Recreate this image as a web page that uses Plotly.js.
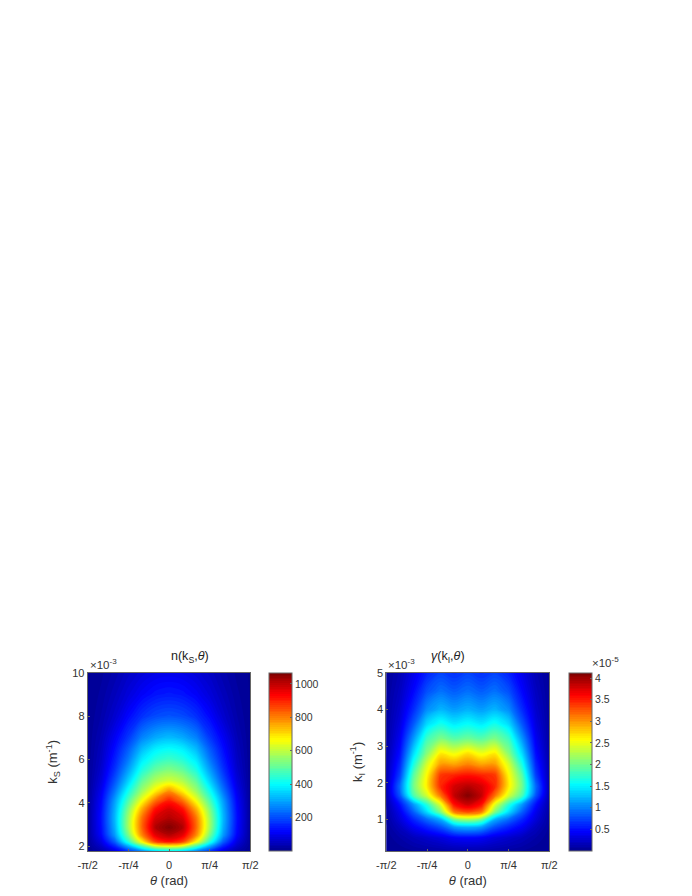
<!DOCTYPE html>
<html>
<head>
<meta charset="utf-8">
<script src="https://cdn.plot.ly/plotly-3.0.1.min.js"></script>
<style>body{margin:0;background:#fff}</style>
</head>
<body>
<div id="graph"></div>
<script>
const theta = [-1.5708, -1.309, -1.0472, -0.7854, -0.5236, -0.2618, 0, 0.2618, 0.5236, 0.7854, 1.0472, 1.309, 1.5708];
const thetaTicks = [-1.5708, -0.7854, 0, 0.7854, 1.5708];
const thetaLabels = ['-π/2', '-π/4', '0', 'π/4', 'π/2'];

// left panel, n(kS,theta)
const kS = [1.77, 2, 2.2, 2.5, 2.86, 3.3, 3.7, 4.1, 4.5, 5, 5.5, 6, 6.5, 7, 8, 9, 10];
const nVals = [
  [3, 30, 85, 175, 270, 350, 380, 350, 270, 175, 85, 30, 3],
  [5, 60, 155, 310, 480, 630, 670, 630, 480, 310, 155, 60, 5],
  [7, 85, 220, 440, 670, 865, 920, 865, 670, 440, 220, 85, 7],
  [9, 115, 285, 525, 790, 960, 1010, 960, 790, 525, 285, 115, 9],
  [10, 125, 310, 570, 825, 1015, 1064, 1015, 825, 570, 310, 125, 10],
  [10, 130, 320, 565, 810, 975, 1010, 975, 810, 565, 320, 130, 10],
  [9, 125, 310, 535, 750, 920, 975, 920, 750, 535, 310, 125, 9],
  [8, 115, 290, 480, 655, 815, 900, 815, 655, 480, 290, 115, 8],
  [7, 100, 250, 420, 570, 690, 790, 690, 570, 420, 250, 100, 7],
  [6, 80, 205, 350, 500, 585, 620, 585, 500, 350, 205, 80, 6],
  [5, 65, 170, 295, 430, 505, 535, 505, 430, 295, 170, 65, 5],
  [5, 55, 145, 250, 375, 435, 460, 435, 375, 250, 145, 55, 5],
  [4, 48, 125, 215, 320, 380, 400, 380, 320, 215, 125, 48, 4],
  [4, 40, 105, 175, 260, 305, 325, 305, 260, 175, 105, 40, 4],
  [3, 27, 65, 118, 165, 195, 205, 195, 165, 118, 65, 27, 3],
  [3, 18, 45, 78, 110, 132, 140, 132, 110, 78, 45, 18, 3],
  [2, 12, 30, 55, 75, 90, 95, 90, 75, 55, 30, 12, 2]
];
const nTicks = [200, 400, 600, 800, 1000];

// right panel, gamma(kI,theta), in units of 1e-5
const kI = [0.14, 0.5, 0.8, 1, 1.2, 1.4, 1.65, 1.9, 2.2, 2.5, 2.8, 3.2, 3.6, 4, 4.5, 5];
const gammaVals = [
  [0.02, 0.03, 0.06, 0.08, 0.1, 0.12, 0.12, 0.12, 0.1, 0.08, 0.06, 0.03, 0.02],
  [0.03, 0.1, 0.18, 0.25, 0.32, 0.42, 0.45, 0.42, 0.32, 0.25, 0.18, 0.1, 0.03],
  [0.05, 0.2, 0.42, 0.6, 0.8, 1.15, 1.25, 1.15, 0.8, 0.6, 0.42, 0.2, 0.05],
  [0.06, 0.3, 0.6, 0.9, 1.2, 2, 2.2, 2, 1.2, 0.9, 0.6, 0.3, 0.06],
  [0.08, 0.38, 0.85, 1.4, 2.05, 3.1, 3.3, 3.1, 2.05, 1.4, 0.85, 0.38, 0.08],
  [0.1, 0.5, 1.1, 1.7, 2.45, 3.55, 3.8, 3.55, 2.45, 1.7, 1.1, 0.5, 0.1],
  [0.13, 0.8, 1.85, 2.4, 3.15, 3.85, 4.11, 3.85, 3.15, 2.4, 1.85, 0.8, 0.13],
  [0.14, 0.9, 2, 2.65, 3.45, 3.78, 3.9, 3.78, 3.45, 2.65, 2, 0.9, 0.14],
  [0.13, 0.72, 1.9, 2.6, 3.4, 3.48, 3.55, 3.48, 3.4, 2.6, 1.9, 0.72, 0.13],
  [0.12, 0.6, 1.65, 2.42, 2.98, 2.95, 3.08, 2.95, 2.98, 2.42, 1.65, 0.6, 0.12],
  [0.1, 0.5, 1.4, 2.1, 2.65, 2.52, 2.7, 2.52, 2.65, 2.1, 1.4, 0.5, 0.1],
  [0.08, 0.4, 1.1, 1.8, 2.05, 1.9, 1.98, 1.9, 2.05, 1.8, 1.1, 0.4, 0.08],
  [0.07, 0.32, 0.82, 1.4, 1.62, 1.47, 1.56, 1.47, 1.62, 1.4, 0.82, 0.32, 0.07],
  [0.06, 0.26, 0.62, 1.05, 1.22, 1.12, 1.2, 1.12, 1.22, 1.05, 0.62, 0.26, 0.06],
  [0.05, 0.2, 0.46, 0.78, 0.93, 0.84, 0.92, 0.84, 0.93, 0.78, 0.46, 0.2, 0.05],
  [0.04, 0.15, 0.36, 0.58, 0.72, 0.64, 0.72, 0.64, 0.72, 0.58, 0.36, 0.15, 0.04]
];
const gammaTicks = [0.5, 1, 1.5, 2, 2.5, 3, 3.5, 4];
const gammaLabels = ['0.5', '1', '1.5', '2', '2.5', '3', '3.5', '4'];

const jet = [
  [0, '#00008f'], [0.11, '#0000ff'], [0.125, '#0010ff'], [0.375, '#00ffff'],
  [0.625, '#ffff00'], [0.875, '#ff0000'], [1, '#800000']
];

const W = 692, H = 896;
const frameColor = '#666666';
const textColor = '#333333';
const fontName = 'Liberation Sans, Arial, sans-serif';

function cbar(x, vals, labels) {
  return {
    x: x / W, xanchor: 'left', xref: 'paper',
    y: (896 - 851) / H, yanchor: 'bottom', yref: 'paper',
    len: 178.3 / H, lenmode: 'fraction',
    thickness: 23, thicknessmode: 'pixels',
    xpad: 0, ypad: 0,
    outlinecolor: frameColor, outlinewidth: 1,
    tickmode: 'array', tickvals: vals, ticktext: labels,
    ticks: 'inside', ticklen: 2, tickcolor: frameColor,
    tickfont: {size: 10.5, color: textColor}
  };
}

const data = [
  {
    type: 'contour', x: theta, y: kS, z: nVals, xaxis: 'x', yaxis: 'y',
    colorscale: jet, zauto: false, zmin: 0, zmax: 1064,
    autocontour: false,
    contours: {coloring: 'fill', showlines: false, start: 4, end: 1060, size: 11},
    line: {width: 0},
    colorbar: cbar(269.3, nTicks, nTicks.map(String))
  },
  {
    type: 'contour', x: theta, y: kI, z: gammaVals, xaxis: 'x2', yaxis: 'y2',
    colorscale: jet, zauto: false, zmin: 0, zmax: 4.115,
    autocontour: false,
    contours: {coloring: 'fill', showlines: false, start: 0.02, end: 4.1, size: 0.04},
    line: {width: 0},
    colorbar: cbar(568.7, gammaTicks, gammaLabels)
  }
];

const axBase = {
  showgrid: false, zeroline: false, showline: true, mirror: true,
  linecolor: frameColor, linewidth: 1,
  ticks: 'inside', ticklen: 2, tickcolor: frameColor,
  tickfont: {size: 11, color: textColor}
};
const xTicks = {
  tickmode: 'array', tickvals: thetaTicks, ticktext: thetaLabels,
  range: [-1.5708, 1.5708], ticklabelstandoff: 4
};
const yDomain = [(896 - 851) / H, (896 - 672.7) / H];
const titleFont = {size: 13, color: textColor};

const layout = {
  width: W, height: H,
  margin: {l: 0, r: 0, t: 0, b: 0},
  paper_bgcolor: '#fff', plot_bgcolor: '#fff',
  font: {family: fontName, color: textColor, size: 11},
  xaxis: Object.assign({}, axBase, xTicks, {
    domain: [87.7 / W, 250.3 / W], anchor: 'y',
    title: {text: '<i>θ</i> (rad)', font: titleFont, standoff: 5}
  }),
  yaxis: Object.assign({}, axBase, {
    domain: yDomain, anchor: 'x', range: [1.77, 10],
    tickmode: 'array', tickvals: [2, 4, 6, 8, 10],
    title: {text: 'k<sub>S</sub> (m<sup>-1</sup>)', font: titleFont, standoff: 11}
  }),
  xaxis2: Object.assign({}, axBase, xTicks, {
    domain: [386.3 / W, 549.3 / W], anchor: 'y2',
    title: {text: '<i>θ</i> (rad)', font: titleFont, standoff: 5}
  }),
  yaxis2: Object.assign({}, axBase, {
    domain: yDomain, anchor: 'x2', range: [0.14, 5],
    tickmode: 'array', tickvals: [1, 2, 3, 4, 5],
    title: {text: 'k<sub>I</sub> (m<sup>-1</sup>)', font: titleFont, standoff: 11}
  }),
  annotations: [
    {text: 'n(k<sub>S</sub>,<i>θ</i>)', xref: 'paper', yref: 'paper', x: 169 / W, y: (896 - 664) / H, showarrow: false, yanchor: 'bottom', font: {size: 12.5, color: '#222'}, yshift: -3},
    {text: '<i>γ</i>(k<sub>I</sub>,<i>θ</i>)', xref: 'paper', yref: 'paper', x: 467 / W, y: (896 - 664) / H, showarrow: false, yanchor: 'bottom', font: {size: 12.5, color: '#222'}, yshift: -3},
    {text: '×10<sup>-3</sup>', xref: 'paper', yref: 'paper', x: 88 / W, y: (896 - 673) / H, xanchor: 'left', yanchor: 'bottom', showarrow: false, font: {size: 11.5, color: textColor}},
    {text: '×10<sup>-3</sup>', xref: 'paper', yref: 'paper', x: 386 / W, y: (896 - 673) / H, xanchor: 'left', yanchor: 'bottom', showarrow: false, font: {size: 11.5, color: textColor}},
    {text: '×10<sup>-5</sup>', xref: 'paper', yref: 'paper', x: 590 / W, y: (896 - 671) / H, xanchor: 'left', yanchor: 'bottom', showarrow: false, font: {size: 11.5, color: textColor}}
  ]
};

Plotly.newPlot('graph', data, layout, {displayModeBar: false, staticPlot: true});
</script>
</body>
</html>
